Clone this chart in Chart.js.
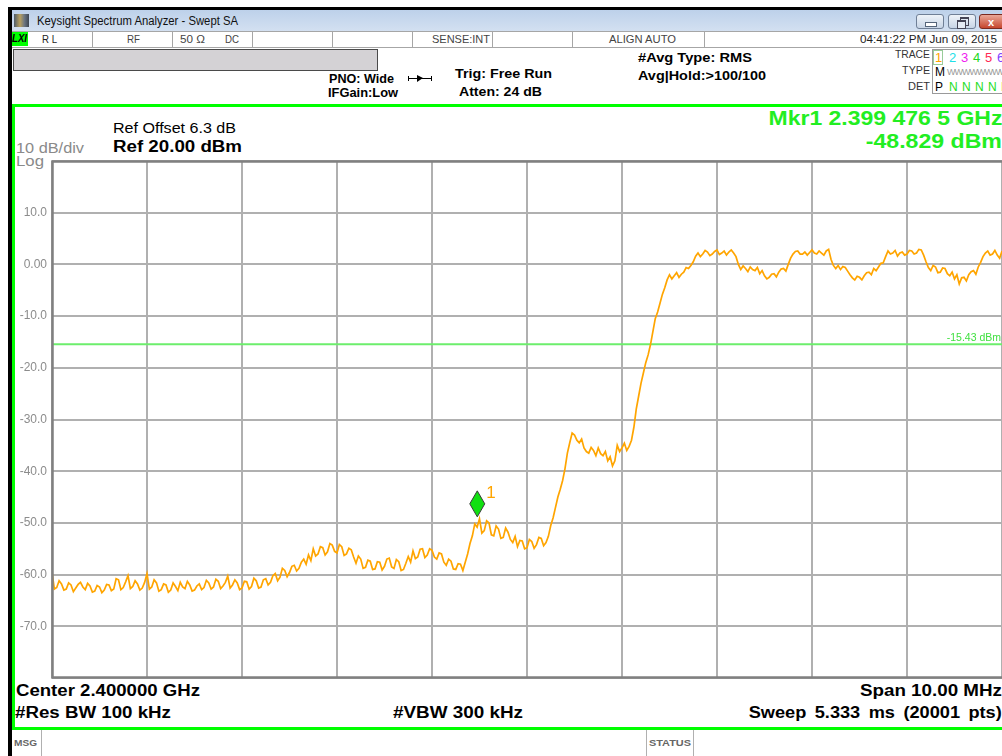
<!DOCTYPE html>
<html>
<head>
<meta charset="utf-8">
<script src="https://cdn.jsdelivr.net/npm/chart.js@4.4.1/dist/chart.umd.min.js"></script>
<style>
  body { margin: 0; width: 1002px; height: 756px; position: relative; overflow: hidden; background: #fff; font-family: Arial, "Liberation Sans", sans-serif; }
  .box { position: absolute; }
  .t { position: absolute; white-space: nowrap; line-height: 1; transform: translateY(-50%); transform-origin: left center; }
  .r { transform-origin: right center; }
  .b { font-weight: bold; }
  .vd { position: absolute; top: 31px; width: 1px; height: 16px; background: #a6a6a6; }
  .btn { position: absolute; top: 14px; width: 28px; height: 15px; border: 1px solid #6f7f96; border-radius: 3px; background: linear-gradient(#eef3f9, #c8d5e6); box-sizing: border-box; }
  #sa { position: absolute; left: 0; top: 0; z-index: 5; }
</style>
</head>
<body>
<!-- window frame -->
<div class="box" style="left:8px;top:7px;width:994px;height:3px;background:#000"></div>
<div class="box" style="left:8px;top:7px;width:4px;height:749px;background:#000"></div>
<div class="box" style="left:12px;top:10px;width:990px;height:21px;background:linear-gradient(#bdd1ea,#d3e0f1)"></div>
<div class="box" style="left:14px;top:14px;width:15px;height:13px;background:linear-gradient(90deg,#4d5c6b,#b8a060 40%,#6a7480 70%,#3d4652)"></div>
<div class="t" style="left:37px;top:21px;font-size:12px;color:#111" data-w="201">Keysight Spectrum Analyzer - Swept SA</div>
<div class="btn" style="left:916px"><div class="box" style="left:8px;top:7px;width:10px;height:3px;background:#fff;border:1px solid #55657a"></div></div>
<div class="btn" style="left:948px"><div class="box" style="left:11px;top:2px;width:7px;height:6px;border:1px solid #445;border-top-width:2px"></div><div class="box" style="left:8px;top:5px;width:7px;height:6px;border:1px solid #445;border-top-width:2px;background:#e4ebf4"></div></div>
<div class="btn" style="left:979px;width:26px;background:linear-gradient(#eaa898,#c6462e);border-color:#7a2a20"><div class="t b" style="left:8px;top:7px;font-size:11px;color:#fff">x</div></div>

<!-- status row -->
<div class="box" style="left:12px;top:31px;width:990px;height:15px;border-top:1px solid #a6a6a6;border-bottom:1px solid #a6a6a6;background:#fff"></div>
<div class="box" style="left:12px;top:32px;width:16px;height:14px;background:#00ff00"></div>
<div class="t b" style="left:12px;top:39px;font-size:10px;font-style:italic;color:#000" data-w="15">LXI</div>
<div class="vd" style="left:92px"></div>
<div class="vd" style="left:172px"></div>
<div class="vd" style="left:252px"></div>
<div class="vd" style="left:332px"></div>
<div class="vd" style="left:412px"></div>
<div class="vd" style="left:492px"></div>
<div class="vd" style="left:572px"></div>
<div class="vd" style="left:704px"></div>
<div class="t" style="left:42px;top:39px;font-size:11px;color:#222" data-w="15">R L</div>
<div class="t" style="left:127px;top:39px;font-size:11px;color:#444" data-w="13">RF</div>
<div class="t" style="left:180px;top:39px;font-size:11px;color:#444" data-w="25">50 Ω</div>
<div class="t" style="left:225px;top:39px;font-size:11px;color:#444" data-w="14">DC</div>
<div class="t" style="left:432px;top:39px;font-size:11px;color:#444" data-w="58">SENSE:INT</div>
<div class="t" style="left:609px;top:39px;font-size:11px;color:#444" data-w="67">ALIGN AUTO</div>
<div class="t r" style="right:5px;top:39px;font-size:11px;color:#222" data-w="137">04:41:22 PM Jun 09, 2015</div>

<!-- settings header -->
<div class="box" style="left:13px;top:49px;width:365px;height:22px;background:#d4d2d5;border:1px solid #4a4a4a;box-sizing:border-box"></div>
<div class="t b" style="left:329px;top:79px;font-size:12px" data-w="65">PNO: Wide</div>
<div class="t b" style="left:328px;top:93px;font-size:12px" data-w="70">IFGain:Low</div>
<div class="box" style="left:409px;top:78px;width:22px;height:1px;background:#000"></div>
<div class="box" style="left:408px;top:76px;width:1px;height:5px;background:#000"></div>
<div class="box" style="left:431px;top:76px;width:1px;height:5px;background:#000"></div>
<div class="box" style="left:417px;top:75px;width:0;height:0;border-top:3px solid transparent;border-bottom:4px solid transparent;border-left:6px solid #000"></div>
<div class="t b" style="left:455px;top:73px;font-size:13px" data-w="97">Trig: Free Run</div>
<div class="t b" style="left:459px;top:91px;font-size:13px" data-w="83">Atten: 24 dB</div>
<div class="t b" style="left:638px;top:57px;font-size:13px" data-w="114">#Avg Type: RMS</div>
<div class="t b" style="left:638px;top:75px;font-size:13px" data-w="128">Avg|Hold:&gt;100/100</div>

<!-- trace box -->
<div class="t r" style="right:72px;top:55px;font-size:10px;color:#333" data-w="35">TRACE</div>
<div class="t r" style="right:72px;top:71px;font-size:10px;color:#333" data-w="28">TYPE</div>
<div class="t r" style="right:72px;top:87px;font-size:10px;color:#333" data-w="22">DET</div>
<div class="box" style="left:932px;top:49px;width:72px;height:45px;border:1px solid #9a9a9a;box-sizing:border-box"></div>
<div class="box" style="left:933px;top:50px;width:10px;height:15px;border:1px solid #9c9;box-sizing:border-box"></div>
<div class="t" style="left:935px;top:57px;font-size:13px;color:#ffa500">1</div>
<div class="t" style="left:949px;top:57px;font-size:13px;color:#1ee0e8">2</div>
<div class="t" style="left:961px;top:57px;font-size:13px;color:#f020f0">3</div>
<div class="t" style="left:973px;top:57px;font-size:13px;color:#22d822">4</div>
<div class="t" style="left:985px;top:57px;font-size:13px;color:#ff2a55">5</div>
<div class="t" style="left:997px;top:57px;font-size:13px;color:#8040ff">6</div>
<div class="t" style="left:935px;top:72px;font-size:12px;color:#000">M</div>
<div class="t" style="left:947px;top:72px;font-size:9px;color:#9a9a9a;letter-spacing:-1px">WWWWWWWW</div>
<div class="t" style="left:935px;top:87px;font-size:12px;color:#000">P</div>
<div class="t" style="left:949px;top:87px;font-size:12px;color:#22dd22;word-spacing:1px">N N N N N</div>

<!-- green panel frame -->
<div class="box" style="left:12px;top:104px;width:990px;height:3px;background:#00ff00"></div>
<div class="box" style="left:12px;top:104px;width:3px;height:626px;background:#00ff00"></div>
<div class="box" style="left:12px;top:727px;width:990px;height:3px;background:#00ff00"></div>

<!-- panel annotations -->
<div class="t" style="left:113px;top:128px;font-size:14px;color:#000" data-w="123">Ref Offset 6.3 dB</div>
<div class="t b" style="left:113px;top:147px;font-size:16px;color:#000" data-w="129">Ref 20.00 dBm</div>
<div class="t" style="left:16px;top:148px;font-size:14px;color:#8a8a8a" data-w="68">10 dB/div</div>
<div class="t" style="left:16px;top:161px;font-size:14px;color:#8a8a8a" data-w="28">Log</div>
<div class="t b r" style="right:0px;top:118px;font-size:20px;color:#22ee22" data-w="234">Mkr1 2.399 476 5 GHz</div>
<div class="t b r" style="right:0px;top:141px;font-size:20px;color:#22ee22" data-w="136">-48.829 dBm</div>

<div class="t b" style="left:16px;top:691px;font-size:16px" data-w="184">Center 2.400000 GHz</div>
<div class="t b" style="left:15px;top:713px;font-size:16px" data-w="156">#Res BW 100 kHz</div>
<div class="t b" style="left:393px;top:713px;font-size:16px" data-w="130">#VBW 300 kHz</div>
<div class="t b r" style="right:0px;top:691px;font-size:16px" data-w="142">Span 10.00 MHz</div>
<div class="t b r" style="right:0px;top:713px;font-size:16px;word-spacing:3px" data-w="253">Sweep 5.333 ms (20001 pts)</div>

<!-- message row -->
<div class="box" style="left:41px;top:730px;width:1px;height:26px;background:#b0b0b0"></div>
<div class="box" style="left:646px;top:730px;width:1px;height:26px;background:#b0b0b0"></div>
<div class="box" style="left:693px;top:730px;width:1px;height:26px;background:#b0b0b0"></div>
<div class="t b" style="left:14px;top:743px;font-size:9px;color:#666" data-w="23">MSG</div>
<div class="t b" style="left:649px;top:743px;font-size:9px;color:#666" data-w="42">STATUS</div>

<canvas id="sa" width="1002" height="756"></canvas>

<script>
// sweep settings (MHz)
const sweepStart = 2395;
const sweepStop = 2405;

// trace 1, dBm, 401 samples read across the span
const traceLevels = [
  -59.5, -62.8, -62.5, -61.2, -61.8, -63.0, -62.8, -61.6, -62.0, -63.3,
  -62.6, -61.9, -61.5, -62.4, -62.9, -61.7, -62.2, -63.4, -63.2, -62.1,
  -62.4, -63.5, -63.0, -61.9, -62.0, -63.1, -62.8, -60.8, -61.0, -62.9,
  -62.5, -61.4, -60.2, -62.7, -62.3, -61.2, -61.8, -63.0, -62.6, -61.5,
  -59.8, -62.8, -62.4, -61.0, -61.6, -63.2, -62.9, -61.8, -62.0, -63.4,
  -63.0, -61.6, -62.3, -63.1, -61.5, -62.4, -62.7, -61.3, -62.0, -63.2,
  -63.0, -62.2, -61.8, -62.9, -62.5, -61.1, -61.6, -62.8, -62.4, -60.9,
  -61.3, -62.7, -62.2, -61.5, -60.3, -62.6, -62.0, -61.0, -61.6, -62.9,
  -62.6, -61.3, -61.4, -62.8, -62.3, -60.7, -61.2, -62.6, -62.4, -61.0,
  -60.8, -62.0, -61.5, -60.2, -59.8, -61.2, -60.5, -58.8, -59.2, -60.4,
  -59.6, -58.4, -58.2, -59.3, -58.8, -57.6, -57.0, -58.0, -56.2, -57.3,
  -55.0, -56.4, -56.0, -54.6, -54.8, -56.2, -55.6, -54.0, -54.3, -55.5,
  -55.8, -54.2, -54.6, -56.3, -56.0, -54.9, -55.2, -56.6, -57.8, -56.4,
  -57.0, -58.8, -58.6, -57.2, -57.4, -59.0, -58.9, -57.5, -57.6, -59.1,
  -58.4, -57.0, -56.8, -58.5, -58.8, -57.1, -57.5, -59.2, -59.0, -57.8,
  -56.5, -57.6, -55.4, -56.9, -56.6, -55.1, -55.0, -56.7, -56.2, -55.0,
  -55.3, -56.6, -57.0, -55.8, -56.0, -57.6, -58.2, -57.0, -57.4, -58.9,
  -59.0, -57.9, -58.0, -59.2, -57.6, -56.0, -54.0, -52.5, -50.2, -50.8,
  -49.2, -52.0, -51.5, -49.6, -50.0, -52.3, -52.5, -50.6, -51.2, -53.0,
  -52.8, -51.0, -51.8, -53.2, -53.8, -52.6, -54.6, -53.4, -53.5, -55.0,
  -54.8, -53.2, -53.6, -54.9, -54.2, -52.8, -53.0, -54.4, -53.8, -52.6,
  -50.5, -49.0, -47.0, -45.0, -43.5, -41.8, -39.5, -36.5, -34.5, -32.6,
  -33.0, -34.0, -34.5, -33.8, -35.5, -36.2, -36.5, -35.4, -36.0, -37.0,
  -35.5, -36.6, -37.0, -36.2, -38.0, -37.2, -39.0, -38.0, -35.0, -36.2,
  -35.5, -34.6, -36.0, -35.2, -34.0, -31.5, -28.0, -25.5, -23.0, -21.0,
  -19.0, -17.5, -15.5, -13.0, -10.5, -9.2, -7.5, -5.8, -4.5, -3.0,
  -2.0, -2.8, -2.2, -1.6, -2.5, -1.9, -1.5, -0.6, -0.8, -0.2,
  0.5, 1.6, 2.2, 1.5, 2.0, 2.7, 2.4, 1.7, 2.0, 2.5,
  2.8, 1.9, 2.2, 2.6, 1.8, 2.4, 2.8, 2.2, 1.5, 0.0,
  -1.0, -0.3, -0.8, -1.4, -0.5, -1.0, -1.2, -0.6, -1.8, -1.2,
  -2.2, -2.8, -2.5, -1.9, -1.8, -2.4, -1.5, -0.9, -0.8, -1.3,
  0.0, 1.2, 2.0, 2.5, 2.6, 2.0, 2.0, 2.4, 1.8, 2.3,
  2.8, 2.2, 2.0, 2.6, 2.2, 1.8, 2.6, 2.9, 1.0, -0.2,
  -0.8, -0.2, -1.0, -0.4, -0.6, -1.3, -2.0, -2.6, -3.0, -2.3,
  -2.5, -3.0, -2.2, -1.6, -1.5, -2.0, -0.8, -1.2, -0.5, 0.2,
  0.3, 1.5, 2.6, 2.0, 2.2, 2.7, 1.6, 2.2, 2.4, 1.8,
  2.0, 2.7, 2.6, 2.0, 2.2, 2.9, 2.8, 1.8, 0.5, -0.6,
  -1.2, -0.2, -0.5, -1.6, -1.5, -0.7, -0.8, -1.8, -2.2, -1.5,
  -2.8, -2.0, -3.8, -2.6, -2.5, -3.2, -2.0, -1.4, -1.2, -1.9,
  -0.5, 0.4, 1.5, 2.2, 2.6, 1.8, 2.0, 2.7, 1.8, 1.2,
  2.6
];

// marker 1 and display line
const markerFreq = 2399.4765;
const markerLevel = -48.829;
const displayLineLevel = -15.43;
const displayLineLabel = '-15.43 dBm';

// amplitude axis
const yTickValues = [10, 0, -10, -20, -30, -40, -50, -60, -70];
const yTickLabels = ['10.0', '0.00', '-10.0', '-20.0', '-30.0', '-40.0', '-50.0', '-60.0', '-70.0'];

// stretch header texts to their measured widths
document.querySelectorAll('[data-w]').forEach(el => {
    const w = el.getBoundingClientRect().width;
    const sx = +el.dataset.w / w;
    el.style.transform = `translateY(-50%) scaleX(${sx.toFixed(3)})`;
});

const step = (sweepStop - sweepStart) / (traceLevels.length - 1);
const tracePoints = traceLevels.map((v, i) => ({ x: sweepStart + i * step, y: v }));

const overlay = {
    id: 'overlay',
    afterDatasetsDraw(chart) {
        const { ctx, chartArea: a, scales } = chart;
        ctx.save();
        // graticule frame
        ctx.strokeStyle = '#808080';
        ctx.lineWidth = 2.5;
        ctx.strokeRect(a.left + 0.5, a.top + 0.5, a.right - a.left + 2, a.bottom - a.top - 1);

        // display line label
        const dy = scales.y.getPixelForValue(displayLineLevel);
        ctx.fillStyle = '#40e040';
        ctx.font = '10.5px Arial, "Liberation Sans"';
        ctx.textAlign = 'right';
        ctx.textBaseline = 'alphabetic';
        ctx.fillText(displayLineLabel, a.right - 1, dy - 3);

        // marker diamond
        const mx = scales.x.getPixelForValue(markerFreq);
        const my = scales.y.getPixelForValue(markerLevel);
        ctx.beginPath();
        ctx.moveTo(mx, my - 26);
        ctx.lineTo(mx + 7.5, my - 13);
        ctx.lineTo(mx, my);
        ctx.lineTo(mx - 7.5, my - 13);
        ctx.closePath();
        ctx.fillStyle = '#11e011';
        ctx.fill();
        ctx.strokeStyle = '#3a3a3a';
        ctx.lineWidth = 1;
        ctx.stroke();

        ctx.fillStyle = '#ffa500';
        ctx.font = '17px Arial, "Liberation Sans"';
        ctx.textAlign = 'left';
        ctx.fillText('1', mx + 9, my - 19);
        ctx.restore();
    }
};

new Chart(document.getElementById('sa'), {
    type: 'line',
    data: {
        datasets: [{
            label: 'Trace 1',
            data: tracePoints,
            borderColor: '#ffa500',
            borderWidth: 1.7,
            pointRadius: 0,
            tension: 0,
            order: 0
        }, {
            label: 'Display line',
            data: [{ x: sweepStart, y: displayLineLevel }, { x: sweepStop, y: displayLineLevel }],
            borderColor: '#6cee6c',
            borderWidth: 2,
            pointRadius: 0,
            order: 1
        }]
    },
    options: {
        responsive: false,
        animation: false,
        devicePixelRatio: 1,
        layout: { padding: { left: 0, top: 161, right: 0, bottom: 78 } },
        plugins: { legend: { display: false }, tooltip: { enabled: false } },
        scales: {
            x: {
                type: 'linear',
                min: sweepStart,
                max: sweepStop,
                ticks: { display: false, stepSize: 1 },
                grid: { color: '#b0b0b0', lineWidth: 2, drawTicks: false },
                border: { display: false },
                afterFit: s => { s.height = 0; }
            },
            y: {
                min: -80,
                max: 20,
                ticks: {
                    stepSize: 10,
                    padding: 5,
                    color: '#8c8c8c',
                    font: { family: 'Arial, "Liberation Sans"', size: 12 },
                    callback: v => {
                        const i = yTickValues.indexOf(v);
                        return i >= 0 ? yTickLabels[i] : '';
                    }
                },
                grid: { color: '#b0b0b0', lineWidth: 2, drawTicks: false },
                border: { display: false },
                afterFit: s => { s.width = 52; }
            }
        }
    },
    plugins: [overlay]
});
</script>
</body>
</html>
